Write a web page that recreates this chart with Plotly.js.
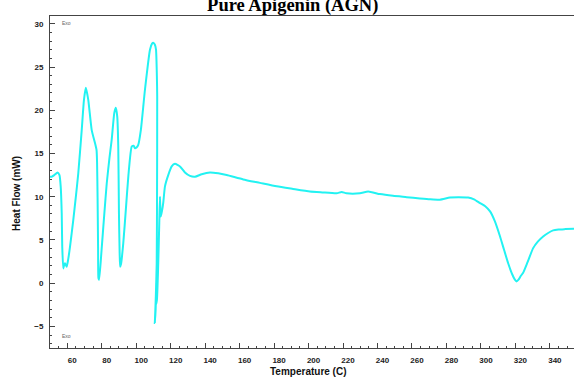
<!DOCTYPE html>
<html>
<head>
<meta charset="utf-8">
<script src="https://cdn.plot.ly/plotly-3.0.1.min.js"></script>
<style>html,body{margin:0;padding:0;background:#fff;}#chart{width:574px;height:378px;}</style>
</head>
<body>
<div id="chart"></div>
<script>
const chartTitle = "Pure Apigenin (AGN)";
const xTitle = "Temperature (C)";
const yTitle = "Heat Flow (mW)";

const temperature = [50, 51, 52.5, 54.4, 55.5, 56.2, 56.8, 57.1, 57.7, 58.2, 58.7, 59.2, 59.7, 60.6, 61.6, 63.5, 65, 66.4, 68.4, 69.7, 70.8, 72.2, 74.2, 76.1, 77.0, 77.3, 77.6, 77.9, 78.1, 78.5, 79.9, 81.5, 82.9, 84.5, 85.8, 87.3, 88.2, 89.0, 89.6, 90.0, 90.4, 90.7, 91.2, 92.5, 94.0, 95.5, 97.4, 98.5, 99.3, 100.2, 101.2, 102.7, 105.1, 108, 109.2, 109.9, 110.8, 111.5, 112.0, 112.2, 112.1, 111.9, 111.4, 110.9, 110.8, 111.3, 111.6, 111.4, 112.0, 112.8, 113.4, 113.8, 114.2, 114.6, 115.1, 115.7, 116.7, 118.6, 120.6, 122.5, 125.4, 128.3, 131.2, 134.1, 138, 142.8, 147.6, 152.5, 162.1, 171.8, 181.5, 191, 200.8, 208, 216.3, 219.2, 222, 229.8, 234.6, 241.4, 249, 256.9, 264.6, 270.4, 276.2, 282, 287, 292.6, 296, 299.5, 302.5, 305.3, 308, 311.1, 313.5, 315.8, 318.2, 319.7, 320.7, 321.8, 323, 324.5, 327, 330.3, 333, 336.1, 339, 341.9, 345, 349, 354];

const heatFlow = [12.3, 12.3, 12.5, 12.8, 12.5, 11.2, 8.1, 4.2, 1.7, 2.1, 2.3, 2.1, 1.9, 2.8, 4.2, 7.3, 10.0, 12.7, 17.7, 21.2, 22.6, 21.2, 17.7, 16.2, 15.4, 14.0, 10.0, 4.0, 0.6, 0.4, 3.8, 8.0, 11.5, 14.5, 16.6, 19.7, 20.3, 19.3, 15.8, 8.1, 3.5, 1.9, 2.2, 4.6, 8.5, 12.5, 15.8, 15.9, 15.6, 15.7, 16.0, 17.7, 22.4, 27.0, 27.7, 27.8, 27.6, 27.0, 24.0, 21.6, 10.0, 2.3, -1.5, -4.2, -4.6, -3.0, 0.0, -2.5, -2.0, 2.3, 7.0, 10.0, 7.7, 8.0, 8.5, 9.3, 11.2, 12.5, 13.5, 13.8, 13.5, 12.8, 12.4, 12.3, 12.6, 12.8, 12.7, 12.5, 12.0, 11.6, 11.2, 10.9, 10.6, 10.5, 10.4, 10.55, 10.4, 10.4, 10.6, 10.3, 10.1, 9.95, 9.8, 9.7, 9.65, 9.9, 9.95, 9.9, 9.7, 9.26, 8.9, 8.3, 7.2, 5.4, 3.8, 2.3, 1.0, 0.4, 0.2, 0.4, 0.8, 1.2, 2.4, 4.05, 4.8, 5.4, 5.8, 6.1, 6.2, 6.25, 6.3];

const xTickVals = [60, 80, 100, 120, 140, 160, 180, 200, 220, 240, 260, 280, 300, 320, 340];
const yTickVals = [-5, 0, 5, 10, 15, 20, 25, 30];

const axisColor = '#444';
const tickFont = {family: 'Liberation Sans, Arial, sans-serif', size: 8, color: '#222', weight: 'bold'};
const axisTitleFont = {family: 'Liberation Sans, Arial, sans-serif', size: 10, color: '#111', weight: 'bold'};

const trace = {
  x: temperature,
  y: heatFlow,
  type: 'scatter',
  mode: 'lines',
  line: {color: '#22F2F2', width: 2, shape: 'spline', smoothing: 0.5},
  hoverinfo: 'skip'
};

const layout = {
  width: 574,
  height: 378,
  paper_bgcolor: '#fff',
  plot_bgcolor: '#fff',
  showlegend: false,
  margin: {l: 50, r: 0, t: 16, b: 30},
  title: {
    text: chartTitle,
    font: {family: 'Liberation Serif, Times New Roman, serif', size: 18.5, color: '#000', weight: 'bold'},
    x: 0.51, xanchor: 'center',
    yref: 'container', y: 0.987, yanchor: 'middle'
  },
  xaxis: {
    range: [50, 354],
    showgrid: false, zeroline: false,
    showline: true, linecolor: axisColor, linewidth: 1, mirror: true,
    ticks: 'inside', ticklen: 5, tickcolor: axisColor, tickwidth: 1,
    tickmode: 'array', tickvals: xTickVals,
    ticklabelshift: 5, ticklabelstandoff: 4,
    minor: {ticks: 'inside', dtick: 5, ticklen: 2, tickcolor: axisColor, showgrid: false},
    tickfont: tickFont
  },
  yaxis: {
    range: [-7.5, 30.9],
    showgrid: false, zeroline: false,
    showline: true, linecolor: axisColor, linewidth: 1, mirror: false,
    ticks: 'inside', ticklen: 5, tickcolor: axisColor, tickwidth: 1,
    tickmode: 'array', tickvals: yTickVals,
    ticklabelstandoff: 4,
    minor: {ticks: 'inside', dtick: 1, ticklen: 2, tickcolor: axisColor, showgrid: false},
    tickfont: tickFont
  },
  annotations: [
    {text: xTitle, xref: 'paper', yref: 'paper', x: 0.494, y: -0.071, xanchor: 'center', yanchor: 'middle', showarrow: false, font: axisTitleFont},
    {text: yTitle, xref: 'paper', yref: 'paper', x: -0.063, y: 0.467, xanchor: 'center', yanchor: 'middle', textangle: -90, showarrow: false, font: axisTitleFont},
    {text: 'Exo', xref: 'paper', yref: 'paper', x: 0.02, y: 0.995, xanchor: 'left', yanchor: 'top', showarrow: false, font: {family: 'Liberation Sans, Arial, sans-serif', size: 5, color: '#666'}},
    {text: 'Exo', xref: 'paper', yref: 'paper', x: 0.02, y: 0.02, xanchor: 'left', yanchor: 'bottom', showarrow: false, font: {family: 'Liberation Sans, Arial, sans-serif', size: 5, color: '#666'}}
  ]
};

Plotly.newPlot('chart', [trace], layout, {displayModeBar: false, staticPlot: true});
</script>
</body>
</html>
